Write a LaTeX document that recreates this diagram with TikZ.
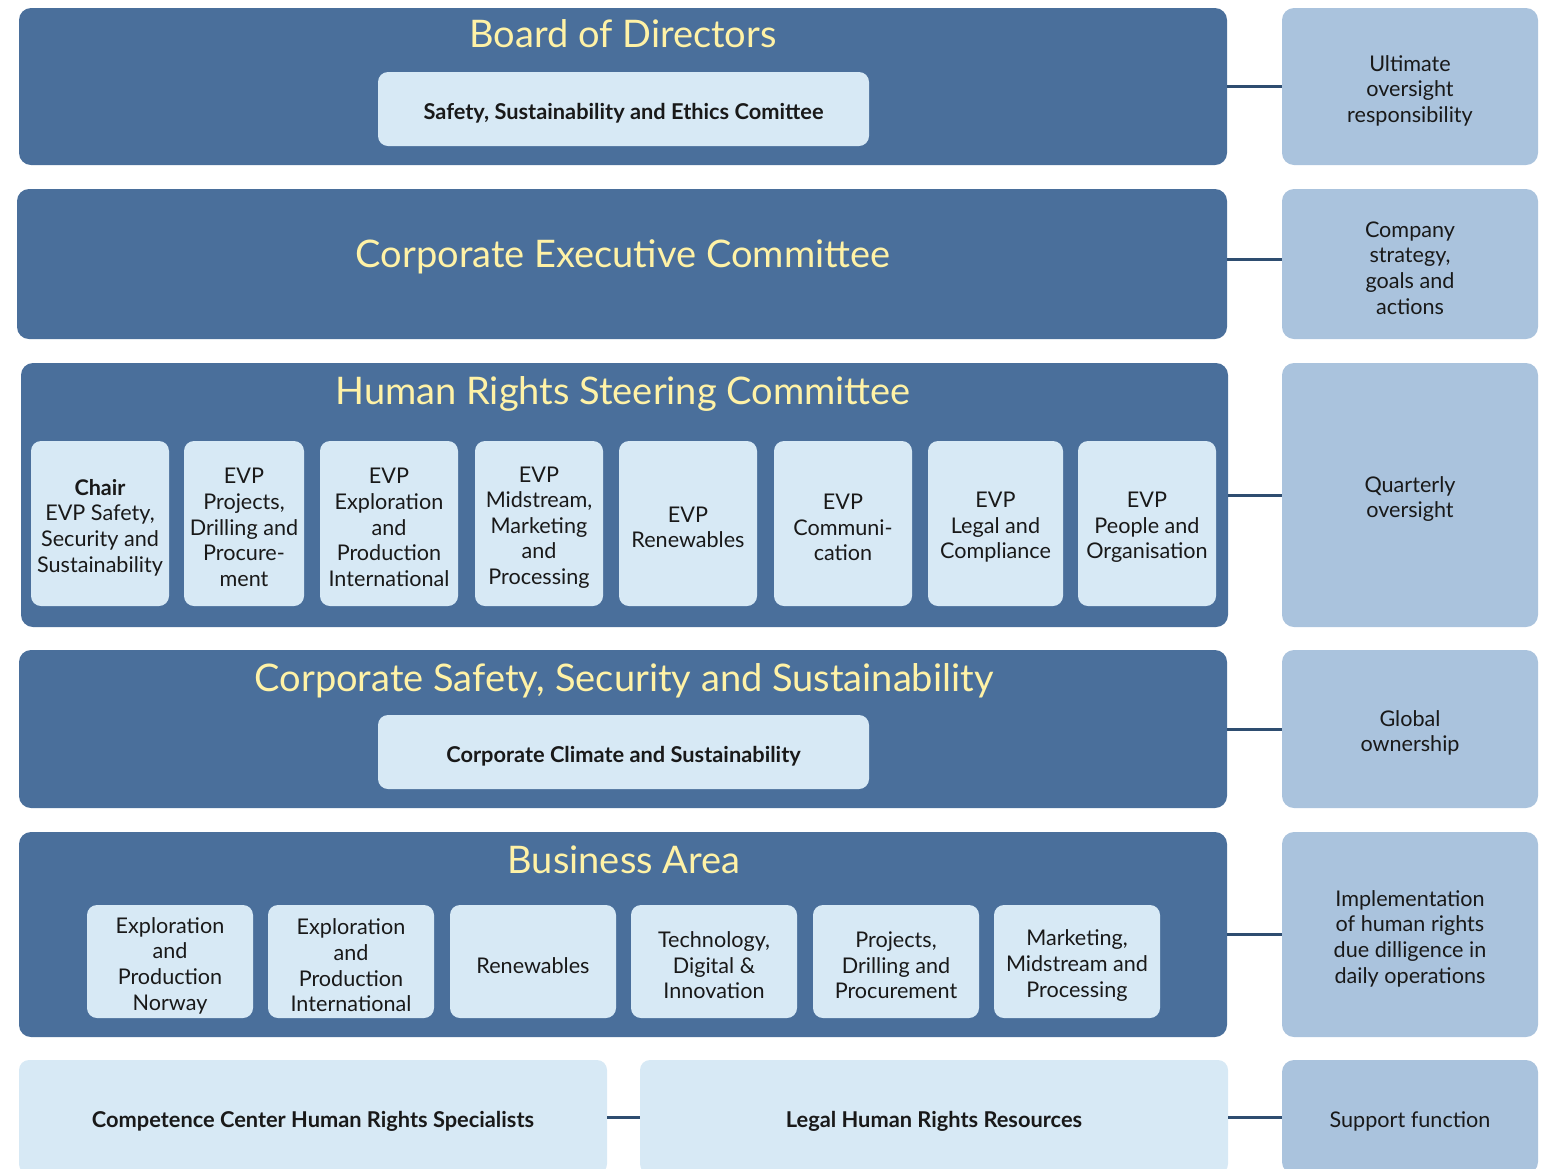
\documentclass[tikz,border=0pt]{standalone}
\usepackage{fontspec}
\setmainfont{Lato}
\usetikzlibrary{fit}

\definecolor{panelblue}{HTML}{4A6F9B}
\definecolor{memberblue}{HTML}{D7E9F5}
\definecolor{roleblue}{HTML}{AAC3DD}
\definecolor{linkblue}{HTML}{2E4D70}
\definecolor{titleyellow}{HTML}{FFF2A6}

\tikzset{
	panel/.style={fill=panelblue, rounded corners=6pt, inner sep=0pt},
	member/.style={fill=memberblue, rounded corners=5pt, inner sep=0pt},
	role/.style={fill=roleblue, rounded corners=6pt, inner sep=0pt},
	headline/.style={text=titleyellow, font=\fontsize{19}{22}\selectfont, anchor=base, inner sep=0pt},
	body/.style={align=center, font=\fontsize{10.8}{12.8}\selectfont, text=black!90, inner sep=0pt, yshift=-2pt},
	strong/.style={align=center, font=\fontsize{10.9}{13}\selectfont\bfseries, text=black!90, inner sep=0pt, yshift=-2pt},
	link/.style={draw=linkblue, line width=1.5pt},
}

\begin{document}
\begin{tikzpicture}[x=0.5pt, y=-0.5pt]
	\useasboundingbox (0,0) rectangle (1541,1168);
	\clip (0,0) rectangle (1541,1168);

	% governance panels
	\node (board) [panel, fit={(19,8)(1227,165)}] {};
	\node (cec) [panel, fit={(17,189)(1227,339)}] {};
	\node (hrsc) [panel, fit={(21,363)(1228,627)}] {};
	\node (csss) [panel, fit={(19,650)(1227,808)}] {};
	\node (area) [panel, fit={(19,832)(1227,1037)}] {};

	\node[headline] (boardtitle) at (623,47) {Board of Directors};
	\node[headline] (cectitle) at (623,267) {Corporate Executive Committee};
	\node[headline] (hrsctitle) at (623,404) {Human Rights Steering Committee};
	\node[headline] (cssstitle) at (624,691) {Corporate Safety, Security and Sustainability};
	\node[headline] (areatitle) at (624,873) {Business Area};

	\node (ethics) [member, fit={(378,72)(869,146)}] {};
	\node[strong] at (ethics) {Safety, Sustainability and Ethics Comittee};
	\node (climate) [member, fit={(378,715)(869,789)}] {};
	\node[strong] at (climate) {Corporate Climate and Sustainability};

	% steering committee members
	\foreach \a/\b/\t [count=\i] in {
		31/169/{\textbf{Chair}\\EVP Safety,\\Security and\\Sustainability},
		184/304/{EVP\\Projects,\\Drilling and\\Procure-\\ment},
		320/458/{EVP\\Exploration\\and\\Production\\International},
		475/603/{EVP\\Midstream,\\Marketing\\and\\Processing},
		619/757/{EVP\\Renewables},
		774/912/{EVP\\Communi-\\cation},
		928/1063/{EVP\\Legal and\\Compliance},
		1078/1216/{EVP\\People and\\Organisation}}
	{
		\node (evp\i) [member, fit={(\a,441)(\b,606)}] {};
		\node[body] at (evp\i) {\t};
	}

	% business areas
	\foreach \a/\t [count=\i] in {
		87/{Exploration\\and\\Production\\Norway},
		268/{Exploration\\and\\Production\\International},
		450/{Renewables},
		631/{Technology,\\Digital \&\\Innovation},
		813/{Projects,\\Drilling and\\Procurement},
		994/{Marketing,\\Midstream and\\Processing}}
	{
		\node (unit\i) [member, fit={(\a,905)(\a+166,1018)}] {};
		\node[body] at (unit\i) {\t};
	}

	% support functions
	\node (centre) [member, fit={(19,1060)(607,1174)}] {};
	\node[strong] at (centre) {Competence Center Human Rights Specialists};
	\node (legal) [member, fit={(640,1060)(1228,1174)}] {};
	\node[strong] at (legal) {Legal Human Rights Resources};

	% responsibilities
	\node (role1) [role, fit={(1282,8)(1538,165)}] {};
	\node (role2) [role, fit={(1282,189)(1538,339)}] {};
	\node (role3) [role, fit={(1282,363)(1538,627)}] {};
	\node (role4) [role, fit={(1282,650)(1538,808)}] {};
	\node (role5) [role, fit={(1282,832)(1538,1037)}] {};
	\node (role6) [role, fit={(1282,1060)(1538,1174)}] {};

	\node[body] at (role1) {Ultimate\\oversight\\responsibility};
	\node[body] at (role2) {Company\\strategy,\\goals and\\actions};
	\node[body] at (role3) {Quarterly\\oversight};
	\node[body] at (role4) {Global\\ownership};
	\node[body] at (role5) {Implementation\\of human rights\\due dilligence in\\daily operations};
	\node[body] at (role6) {Support function};

	\draw[link] (board) -- (role1);
	\draw[link] ([yshift=2.5pt]cec.east) -- ([yshift=2.5pt]role2.west);
	\draw[link] (hrsc) -- (role3);
	\draw[link] (csss) -- (role4);
	\draw[link] (area) -- (role5);
	\draw[link] (centre) -- (legal);
	\draw[link] (legal) -- (role6);
\end{tikzpicture}
\end{document}
